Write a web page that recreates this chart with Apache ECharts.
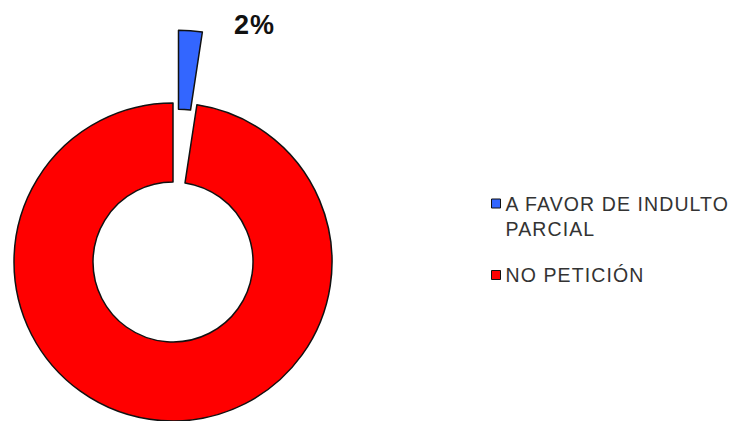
<!DOCTYPE html>
<html><head><meta charset="utf-8">
<script src="https://cdn.jsdelivr.net/npm/echarts@6/dist/echarts.min.js"></script>
<style>
html,body{margin:0;padding:0;background:#fff}
#c{width:742px;height:421px}
#c svg text{letter-spacing:1.1px}
</style>
</head><body><div id="c"></div>
<script>
var categories = ['A FAVOR DE INDULTO\nPARCIAL', 'NO PETICIÓN'];
var values = [2.4, 97.6];
var colors = ['#3366FF', '#FF0000'];

var chart = echarts.init(document.getElementById('c'), null, { renderer: 'svg' });
var data = categories.map(function (n, i) {
  return {
    name: n, value: values[i], selected: i === 0,
    itemStyle: { color: colors[i] },
    label: { show: i === 0 }
  };
});
// icon shapes: square aligned with first text line (padded box keeps it in place)
var iconTop = 'path://M0,0L9,0L9,9L0,9ZM0,34L0,34';
var iconMid = 'path://M0,0L0,0M0,12.5L9,12.5L9,21.5L0,21.5ZM0,34L0,34';
chart.setOption({
  animation: false,
  legend: {
    orient: 'vertical', left: 486, top: 186,
    itemWidth: 9, itemHeight: 34, itemGap: 16.5,
    itemStyle: { borderColor: '#111', borderWidth: 1 },
    textStyle: { fontFamily: 'Liberation Sans, Arial', fontSize: 19.5, color: '#333', lineHeight: 25 },
    data: [
      { name: categories[0], icon: iconTop },
      { name: categories[1], icon: iconMid }
    ]
  },
  series: [{
    type: 'pie',
    center: [173, 262],
    radius: [80, 159],
    startAngle: 90,
    clockwise: true,
    percentPrecision: 0,
    selectedMode: 'single',
    selectedOffset: 73,
    avoidLabelOverlap: false,
    itemStyle: { borderColor: '#111', borderWidth: 1.5 },
    label: {
      position: 'outside', formatter: '{d}%',
      fontFamily: 'Liberation Sans, Arial', fontWeight: 'bold', fontSize: 27, color: '#111'
    },
    labelLine: { show: false, length: 6, length2: 38 },
    emphasis: { disabled: true },
    data: data
  }]
});
</script></body></html>
